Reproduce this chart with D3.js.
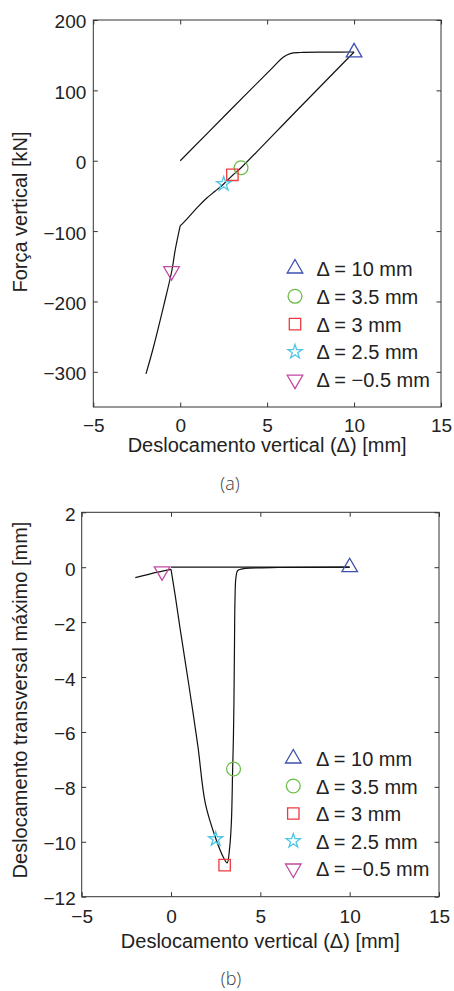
<!DOCTYPE html>
<html>
<head>
<meta charset="utf-8">
<script src="https://cdn.jsdelivr.net/npm/d3@7"></script>
<style>
  html, body { margin: 0; padding: 0; background: #fff; }
  svg { display: block; }
  text { font-family: "Liberation Sans", Arial, Helvetica, sans-serif; fill: #222; }
  .caption { font-family: "Open Sans", sans-serif; font-weight: 300; fill: #3c3c3c; }
</style>
</head>
<body>
<svg id="chart" width="454" height="991"></svg>
<script>
// Axis ticks
const xTicks = [-5, 0, 5, 10, 15];
const forceTicks = [-300, -200, -100, 0, 100, 200];
const transTicks = [-12, -10, -8, -6, -4, -2, 0, 2];

// (a) vertical force [kN] against vertical displacement [mm]
const forceLoading = [[0, 0], [2.8, 70], [5.4, 134.5], [5.94, 147.5], [6.33, 152.3], [6.9, 153.8], [8.5, 154.3], [10, 154.5]];
const forceUnloading = [[10, 154.5], [6.75, 72.5], [3.5, -10], [3, -21], [2.5, -33], [2.0, -43.5], [1.53, -53], [1.0, -66], [0.6, -77], [0.19, -88], [0, -92.3]];
const forceCompression = [[0, -92.3], [-0.29, -127], [-0.48, -156], [-0.96, -207], [-1.53, -264], [-1.97, -303]];

// (b) maximum transverse displacement [mm] against vertical displacement [mm]
const transLoading = [[0, 0], [10, 0]];
const transUnloading = [[10, 0], [6, -0.01], [4.44, -0.03], [4.0, -0.06], [3.73, -0.12], [3.63, -0.4], [3.58, -1.2],
  [3.55, -3], [3.52, -5], [3.49, -6.26], [3.45, -7.34], [3.38, -9.26], [3.28, -10.23], [3.14, -10.77], [2.95, -10.59],
  [2.5, -9.87], [1.92, -8.6], [1.5, -6.5], [1.0, -4.3], [0.5, -2.2], [0.25, -1.1], [0, -0.08]];
const transCompression = [[0, -0.08], [-0.6, -0.16], [-1.16, -0.24], [-2, -0.38]];

// Highlighted states
const markerDelta = [10, 3.5, 3, 2.5, -0.5];
const markerForce = [154, -10, -20, -33, -157];
const markerTrans = [0, -7.35, -10.85, -9.9, -0.15];
const markerLabels = ["Δ = 10 mm", "Δ = 3.5 mm", "Δ = 3 mm", "Δ = 2.5 mm", "Δ = −0.5 mm"];
const markerColors = ["#3f4fae", "#6cbd48", "#ec3a3f", "#4fc6e4", "#c04aa2"];
const markerShapes = ["triangleUp", "circle", "square", "star", "triangleDown"];

const svg = d3.select("#chart");

function symbolPath(shape) {
  const gen = d3.symbol();
  switch (shape) {
    case "circle": return gen.type(d3.symbolCircle).size(150)();
    case "square": return gen.type(d3.symbolSquare).size(130)();
    case "star": return gen.type(d3.symbolStar).size(62)();
    default: return gen.type(d3.symbolTriangle).size(105)();
  }
}

function drawMarker(g, shape, color, cx, cy) {
  g.append("path")
    .attr("d", symbolPath(shape))
    .attr("transform", `translate(${cx},${cy})` + (shape === "triangleDown" ? " rotate(180)" : ""))
    .attr("fill", "none")
    .attr("stroke", color)
    .attr("stroke-width", 1.3);
}

function drawPanel(p) {
  const x = d3.scaleLinear().domain([-5, 15]).range([p.left, p.right]);
  const y = d3.scaleLinear().domain(p.yDomain).range([p.bottom, p.top]);
  const g = svg.append("g");
  const tick = 4.5;

  // bottom axis (inward ticks)
  const ax = g.append("g").attr("transform", `translate(0,${p.bottom})`)
    .call(d3.axisBottom(x).tickValues(xTicks).tickSize(-tick));
  ax.selectAll("text").attr("y", p.xTickBaseline).attr("dy", 0).style("font-size", "19px");
  // left axis
  const ay = g.append("g").attr("transform", `translate(${p.left},0)`)
    .call(d3.axisLeft(y).tickValues(p.yTicks).tickSize(-tick).tickPadding(p.yPad));
  ay.selectAll("text").attr("dy", "0.42em").style("font-size", "19px");
  // top and right axes, ticks only
  g.append("g").attr("transform", `translate(0,${p.top})`)
    .call(d3.axisTop(x).tickValues(xTicks).tickSize(-tick).tickFormat(""));
  g.append("g").attr("transform", `translate(${p.right},0)`)
    .call(d3.axisRight(y).tickValues(p.yTicks).tickSize(-tick).tickFormat(""));
  g.selectAll(".domain").remove();
  g.selectAll(".tick line").attr("stroke", "#333");
  g.selectAll(".tick text").attr("fill", "#222").attr("font-family", null);

  g.append("rect")
    .attr("x", p.left).attr("y", p.top)
    .attr("width", p.right - p.left).attr("height", p.bottom - p.top)
    .attr("fill", "none").attr("stroke", "#333").attr("stroke-width", 1);

  // response curve
  const line = d3.line().x(d => x(d[0])).y(d => y(d[1])).curve(d3.curveCatmullRom.alpha(0.5));
  p.series.forEach(s => {
    g.append("path").attr("d", line(s))
      .attr("fill", "none").attr("stroke", "#111").attr("stroke-width", 1.2);
  });

  // state markers on the curve
  markerDelta.forEach((d, i) => drawMarker(g, markerShapes[i], markerColors[i], x(d), y(p.markerValues[i])));

  // legend
  markerLabels.forEach((lab, i) => {
    const base = p.legendBaseline + i * p.legendStep;
    drawMarker(g, markerShapes[i], markerColors[i], p.legendMarkerX, base - 7.5);
    g.append("text").attr("x", p.legendTextX).attr("y", base)
      .style("font-size", "20px").text(lab);
  });

  // axis titles
  g.append("text").attr("x", (p.left + p.right) / 2).attr("y", p.xLabelBaseline)
    .attr("text-anchor", "middle").style("font-size", "20px")
    .text("Deslocamento vertical (Δ) [mm]");
  g.append("text")
    .attr("transform", `translate(27,${p.yLabelCenter}) rotate(-90)`)
    .attr("text-anchor", "middle").style("font-size", "20px")
    .text(p.yLabel);

  // panel caption
  g.append("text").attr("class", "caption")
    .attr("x", p.captionX).attr("y", p.captionBaseline)
    .attr("text-anchor", "middle").style("font-size", "18px")
    .text(p.caption);
}

drawPanel({
  left: 93.3, right: 441, top: 20, bottom: 407,
  yDomain: [-350, 200], yTicks: forceTicks, yPad: 7,
  xTickBaseline: 24.5, xLabelBaseline: 452,
  yLabel: "Força vertical [kN]", yLabelCenter: 212,
  series: [forceLoading, forceUnloading, forceCompression],
  markerValues: markerForce,
  legendBaseline: 276, legendStep: 27.8, legendMarkerX: 295, legendTextX: 316.5,
  caption: "(a)", captionX: 230, captionBaseline: 490
});

drawPanel({
  left: 81.7, right: 439, top: 512.3, bottom: 896.7,
  yDomain: [-12, 2], yTicks: transTicks, yPad: 6,
  xTickBaseline: 26.5, xLabelBaseline: 948,
  yLabel: "Deslocamento transversal máximo [mm]", yLabelCenter: 700,
  series: [transLoading, transUnloading, transCompression],
  markerValues: markerTrans,
  legendBaseline: 766, legendStep: 27.5, legendMarkerX: 293.3, legendTextX: 316,
  caption: "(b)", captionX: 231, captionBaseline: 985
});
</script>
</body>
</html>
